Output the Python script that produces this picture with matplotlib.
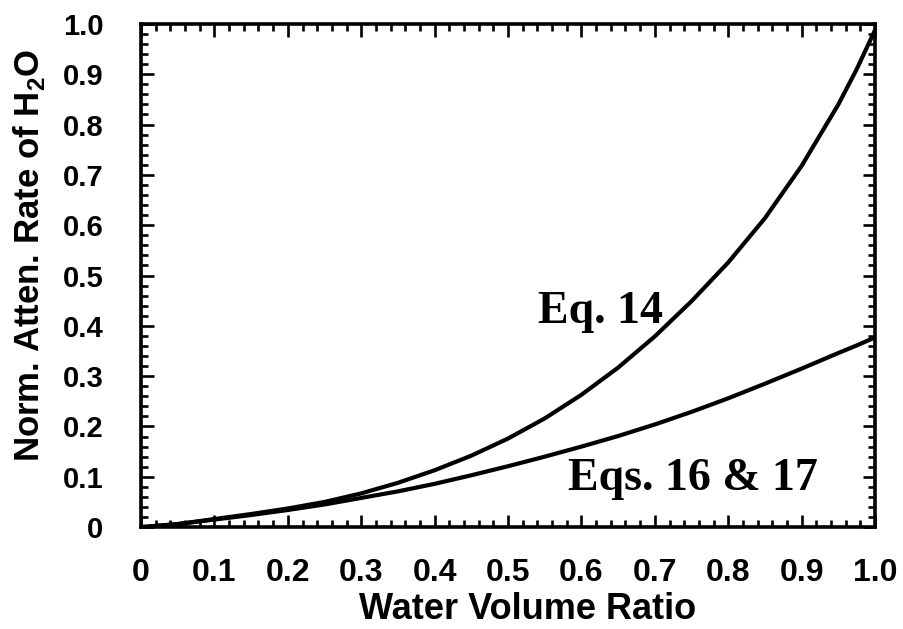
import matplotlib
matplotlib.use("Agg")
import matplotlib.pyplot as plt
from matplotlib.ticker import MultipleLocator, FixedLocator, FixedFormatter

plt.rcParams['mathtext.fontset'] = 'custom'
plt.rcParams['mathtext.bf'] = 'Liberation Sans:bold'
plt.rcParams['mathtext.rm'] = 'Liberation Sans:bold'

# Data
water_ratio = [0.0, 0.05, 0.10, 0.15, 0.20, 0.25, 0.30, 0.35, 0.40, 0.45, 0.50,
               0.55, 0.60, 0.65, 0.70, 0.75, 0.80, 0.85, 0.90, 0.95, 0.975, 1.0]
eq14 = [0.0, 0.006, 0.016, 0.026, 0.037, 0.050, 0.067, 0.088, 0.113, 0.142, 0.176,
        0.216, 0.263, 0.317, 0.379, 0.449, 0.526, 0.614, 0.718, 0.840, 0.910, 0.988]
eq16_17 = [0.0, 0.006, 0.015, 0.024, 0.034, 0.045, 0.058, 0.071, 0.086, 0.103, 0.121,
           0.140, 0.160, 0.181, 0.204, 0.229, 0.256, 0.285, 0.315, 0.346, 0.361, 0.377]

tick_vals = [0.0, 0.1, 0.2, 0.3, 0.4, 0.5, 0.6, 0.7, 0.8, 0.9, 1.0]
tick_labels = ["0", "0.1", "0.2", "0.3", "0.4", "0.5", "0.6", "0.7", "0.8", "0.9", "1.0"]

fig = plt.figure(figsize=(9.04, 6.29), dpi=100)
ax = fig.add_axes([0.156, 0.162, 0.812, 0.800])

ax.plot(water_ratio, eq14, color='black', lw=3.0, solid_capstyle='round', solid_joinstyle='round')
ax.plot(water_ratio, eq16_17, color='black', lw=3.0, solid_capstyle='round', solid_joinstyle='round')

ax.set_xlim(0, 1.0)
ax.set_ylim(0, 1.0)

for axis in (ax.xaxis, ax.yaxis):
    axis.set_major_locator(FixedLocator(tick_vals))
    axis.set_major_formatter(FixedFormatter(tick_labels))
    axis.set_minor_locator(MultipleLocator(0.02))

ax.tick_params(which='both', direction='in', top=True, right=True, width=1.9, color='black')
ax.tick_params(which='major', length=9)
ax.tick_params(which='minor', length=5)
ax.tick_params(axis='x', which='major', pad=22)
ax.tick_params(axis='y', which='major', pad=27)

for lab in ax.get_xticklabels():
    lab.set_fontfamily('Liberation Sans')
    lab.set_fontweight('bold')
    lab.set_fontsize(23)
for lab in ax.get_yticklabels():
    lab.set_fontfamily('Liberation Sans')
    lab.set_fontweight('bold')
    lab.set_fontsize(21)

for sp in ax.spines.values():
    sp.set_linewidth(2.6)

ax.set_xlabel('Water Volume Ratio', fontfamily='Liberation Sans', fontweight='bold',
              fontsize=26)
ax.xaxis.set_label_coords(0.527, -0.129)
ax.set_ylabel(r'Norm. Atten. Rate of H$_{\mathbf{2}}$O', fontfamily='Liberation Sans',
              fontweight='bold', fontsize=25)
ax.yaxis.set_label_coords(-0.128, 0.54)

ax.text(0.541, 0.406, 'Eq. 14', fontfamily='Liberation Serif', fontweight='bold',
        fontsize=33, ha='left', va='baseline')
ax.text(0.582, 0.074, 'Eqs. 16 & 17', fontfamily='Liberation Serif', fontweight='bold',
        fontsize=33, ha='left', va='baseline')

fig.savefig('out.png', dpi=100)
